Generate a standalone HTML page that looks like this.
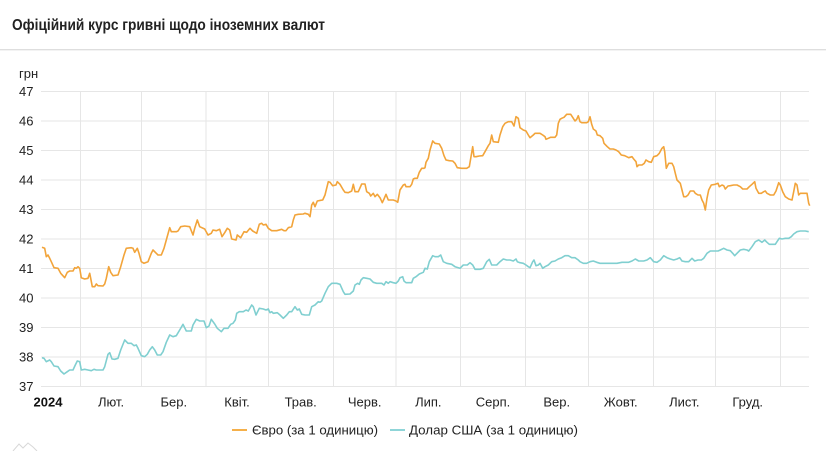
<!DOCTYPE html>
<html>
<head>
<meta charset="utf-8">
<style>
html,body{margin:0;padding:0;background:#fff;}
body{width:826px;height:451px;overflow:hidden;}
svg{display:block;font-family:"Liberation Sans","Noto Sans CJK SC",sans-serif;}
</style>
</head>
<body>
<svg width="826" height="451" viewBox="0 0 826 451" xmlns="http://www.w3.org/2000/svg">
<rect width="826" height="451" fill="#fff"/>
<text x="12" y="30" font-size="16" font-weight="bold" fill="#222" textLength="313" lengthAdjust="spacingAndGlyphs">Офіційний курс гривні щодо іноземних валют</text>
<line x1="0" y1="49.5" x2="826" y2="49.5" stroke="#dedede" stroke-width="1"/>
<line x1="0" y1="50.5" x2="826" y2="50.5" stroke="#f3f3f3" stroke-width="1"/>

<text x="19" y="78" font-size="13" fill="#222">грн</text>

<g stroke="#e6e6e6" stroke-width="1">
<line x1="41" y1="91.5" x2="809" y2="91.5"/>
<line x1="41" y1="121" x2="809" y2="121"/>
<line x1="41" y1="150.5" x2="809" y2="150.5"/>
<line x1="41" y1="180" x2="809" y2="180"/>
<line x1="41" y1="209.5" x2="809" y2="209.5"/>
<line x1="41" y1="239" x2="809" y2="239"/>
<line x1="41" y1="268.5" x2="809" y2="268.5"/>
<line x1="41" y1="298" x2="809" y2="298"/>
<line x1="41" y1="327.5" x2="809" y2="327.5"/>
<line x1="41" y1="357" x2="809" y2="357"/>
<line x1="41" y1="386.5" x2="809" y2="386.5"/>
<line x1="80.5" y1="91.5" x2="80.5" y2="386.5"/>
<line x1="141.5" y1="91.5" x2="141.5" y2="386.5"/>
<line x1="206" y1="91.5" x2="206" y2="386.5"/>
<line x1="268.5" y1="91.5" x2="268.5" y2="386.5"/>
<line x1="333.5" y1="91.5" x2="333.5" y2="386.5"/>
<line x1="396" y1="91.5" x2="396" y2="386.5"/>
<line x1="460.5" y1="91.5" x2="460.5" y2="386.5"/>
<line x1="525.5" y1="91.5" x2="525.5" y2="386.5"/>
<line x1="588.5" y1="91.5" x2="588.5" y2="386.5"/>
<line x1="653.5" y1="91.5" x2="653.5" y2="386.5"/>
<line x1="715.5" y1="91.5" x2="715.5" y2="386.5"/>
<line x1="780.5" y1="91.5" x2="780.5" y2="386.5"/>
</g>

<g font-size="13" fill="#222">
<text x="19" y="96.2">47</text>
<text x="19" y="125.7">46</text>
<text x="19" y="155.2">45</text>
<text x="19" y="184.7">44</text>
<text x="19" y="214.2">43</text>
<text x="19" y="243.7">42</text>
<text x="19" y="273.2">41</text>
<text x="19" y="302.7">40</text>
<text x="19" y="332.2">39</text>
<text x="19" y="361.7">38</text>
<text x="19" y="391.2">37</text>
</g>

<g font-size="13" fill="#222" text-anchor="middle">
<text x="48" y="406.5" font-weight="bold" fill="#111">2024</text>
<text x="111" y="406.5">Лют.</text>
<text x="173.8" y="406.5">Бер.</text>
<text x="237" y="406.5">Квіт.</text>
<text x="300.7" y="406.5">Трав.</text>
<text x="364.7" y="406.5">Черв.</text>
<text x="428.3" y="406.5">Лип.</text>
<text x="493" y="406.5">Серп.</text>
<text x="556.7" y="406.5">Вер.</text>
<text x="620.7" y="406.5">Жовт.</text>
<text x="684.3" y="406.5">Лист.</text>
<text x="747.7" y="406.5">Груд.</text>
</g>

<polyline fill="none" stroke="#80cfd0" stroke-width="1.6" stroke-linejoin="round" points="42,357.7 44,358.3 46.3,361.7 49.7,360 51.3,361.7 54,366 58,366.7 60.7,371 64,374 67.3,371.7 69.7,370 73,370 75.3,365 77.3,361 79.7,361.7 81.3,370 84.7,369.3 88,370 91.3,370.7 94,369.3 96.3,370 99.7,370 103,370 104.7,366.7 108,354.3 109.7,352.7 112,359 114.7,359.3 118,358.3 120.7,350 124.7,340 128,343.3 131.3,343.3 134,345.7 136.3,345 138,348.3 141.3,355.7 144.7,356.7 147.3,354.3 149.7,350 152.3,346.7 154.7,350 157.3,355 160.7,355 163,351.7 166.3,342.3 169.7,335 173,336.7 176.3,335.7 179.7,330 183,324.3 186.3,331 191.3,331 193,325 196.3,319.3 199.7,321 204,321 206.3,327.7 209,326 211.3,319.3 214.7,324 217.3,328.3 221.3,331.7 224,328.3 228,328.3 230.7,324.3 233,323.3 235.3,320 236.7,313.3 239.3,311.7 243.3,311.7 246,310 248.3,311 251.7,305 253.3,306.7 256,315 259.3,308.3 263.3,309 266,310 268.3,309 270,312.7 271.7,311.7 273.3,313.3 277.3,312.7 280,315 283.3,318.3 286.7,315 289.3,311.7 291.7,311.7 295,306.7 297.3,310 299.3,309 301.7,314.3 305,315 309.3,315 311.7,306.7 315,305 318.3,301.7 320,302.3 321.7,301 325,293.3 328.3,286.7 331.7,283.3 336.7,283.3 340,284.3 343.3,291.7 345,294.3 350,294 353.3,291 355,285 357.7,283.3 359.3,284.3 361,280 363.3,277.7 366.7,278.3 370,279 373.3,282.3 376.7,283.3 381.7,283.3 384,285 386,281.7 388.3,283.3 390,281.7 393.3,282.7 396,283.3 398.3,281 400,277.7 402.7,276.7 404,281 406,282.7 409.3,282.7 411.7,282.7 413.3,278.3 416,276.7 419.3,274 423.3,272.3 425,268.3 427.3,269 429.3,261.7 432.7,255.7 435,256.7 438.3,256.7 440.7,255 443.3,261.7 446.7,263.3 451.7,264.3 455,266.7 460,268.3 463.3,265 467.3,265 470,262.7 472.7,265 475,269.3 480,269.3 483.3,268.3 486.7,261.7 489.3,259.3 491.7,265 496.7,265 500,261.7 503.3,259 506.7,260 510,260 513.3,261 516,259 517.3,261.7 520,262.7 523.3,263.3 526,265 528.3,266.7 530,267.7 532.7,261.7 534,260 536,265.7 538.3,265 540,263.3 542.7,268.3 545,266.7 548.3,265 551.7,261.7 555,261 558.3,259 561.7,257.7 565,255.7 568.3,255.7 571.7,257.7 575,257.7 578.3,260 580,261.7 583.3,263.3 586.7,263.3 590,261.7 593.3,261 596.7,262.3 600,263.3 603.3,263.3 606.7,263.3 611.7,263.3 617,263.3 622,262.3 628.7,262.3 632,261 635.3,259 638.7,261 643.7,261 647,260 650.3,257.7 653.7,261.7 657,262.3 660.3,260 663.7,255.7 667,257.7 670.3,259 673.7,260 677,259 679.7,257.7 682,261 685.3,261.7 688.7,261.7 692,258.3 694.7,261 698,260 701.3,260 703.7,258.3 707,253.3 710.3,251 715.3,251 718,251 720.3,250 723.7,248.3 727,250 730.3,250.7 732.7,253.3 734.7,255.7 737,253.3 740.3,250 743.7,249.3 747,250 748.7,251 752,246.7 755.3,241.7 758.7,240 762,242.3 764.7,240 767,242.3 769.3,244.3 772,244.3 775.3,244.3 777,241.7 779.3,238.3 782,239 785.3,238.3 788.7,238.3 791.3,236.7 793.7,234 797,231.7 800.3,231 805.3,231 808.7,231.7"/>

<polyline fill="none" stroke="#f2a43a" stroke-width="1.6" stroke-linejoin="round" points="42,247.3 44.7,248.3 46.3,256.7 48,255 49.7,258.3 51.3,261.7 54,267.7 58,268.3 60.7,273.3 64.7,277.7 67.3,272.3 69.7,271 73,271 74.7,267.7 76.3,268.3 78,266.7 79.7,268.3 81.3,277.7 84.7,279 88,278.3 89.7,273.3 90.7,278.3 92.3,286.7 94.7,286.7 96.3,284 98,285.7 103,286 104.7,284 106.3,278.3 108.7,266.7 110.7,272.3 113,275.7 118,275 120.7,266.7 124,255 126.3,248.3 131.3,247.7 133,248.3 134.7,252.3 137.3,248.3 139,253.3 141.3,261.7 144,263.3 148,261.7 151.3,253.3 153,250 156.3,253.3 158,255 161.3,255 164,248.3 166.3,240 169.7,227.7 171.3,231.7 176.3,231.7 178,231 180.7,226.7 184.7,226 189.7,226.7 193,235 194.7,228.3 197.3,220 199.7,226.7 204.7,229 208,235 211.3,233.3 213,230 216.3,230.7 219.7,229.3 222,236.7 224.7,232.7 227.3,228.3 229.7,230 231.7,239 236,240 237.3,235 240.7,237.7 244,231.7 246.7,232.3 250,228.3 252.7,231 256.7,233.3 259.3,224.3 261.7,223.3 263.3,225 266,224.3 268.3,228.3 271.7,230.7 276.7,230.7 281.7,229.3 284,230.7 286,230.7 288.3,227.7 291.7,226.7 293.3,220 295,215 298.3,214.3 303.3,214 305,213.3 308.3,214.3 310,216.7 311.7,205 313.3,202.3 315,206.7 317.3,201 320.7,200.3 322.7,200 325,195 328.3,181.7 330,182.3 332.7,185.7 336,185 337.3,181.7 340,184.3 343.3,190 345,192.3 348.3,192.7 351.7,191 353.3,184.3 355,191.7 358.3,191.7 361.7,184 365,184 366.7,191.7 369.3,193.3 370.7,196 373.3,193.3 375,196.7 377.3,194.3 380,197.7 382.3,202.7 384,199 386,194.3 388.3,200 390,200 393.3,200 396,201 397.7,202.3 400,190 403.3,185 405,184.3 406,186.7 410,186.7 411.7,184.3 413.3,179 415,178.3 417.3,178.3 419.3,172.3 421.7,168.3 424,168.3 425,167.7 426,162.3 428.3,158.3 430,150 432.7,141 435,143.3 439.3,144 441.7,148.3 444,155.7 446,160 449.3,160.7 452.7,161 455,163.3 457.3,167.7 461.7,168.3 466.7,168.3 469.3,166.7 471,156.7 472.7,146.7 474,156.7 476,156.7 479.3,156 482.7,155.7 485,151.7 488.3,145.7 490,143.3 491.7,135 493.3,141.7 498.3,142.3 500,135 502.7,126.7 505,123.3 508.3,121.7 511.7,121.7 514,126 516,116.7 518.3,118.3 520,127.7 523.3,130 526,131 528.3,135 530,137.7 533.3,135 535,133.3 540,133.3 542.7,135 545,136.7 546,139.3 548.3,138.3 550.7,137.3 555,137.3 556.7,135 558.3,123.3 560,119.3 561.7,118.3 564,117.3 566.7,114.3 570.7,114.3 573.3,118.3 575,121 576.7,119.3 578.3,115.7 580,121.7 581.7,122.7 585,122.7 586.7,122.7 588.3,121.7 590,116.7 591.7,124.3 593.3,129 596,131 597.3,135 600,135.7 602.7,138.3 604,143.3 607.3,146.7 610,149 613.3,149 616,150 618.7,151.7 621.3,155 624.7,155.7 628.7,157.7 632,156.7 633.7,159 636,161.7 637,166.7 638.7,165 642,165 644.3,163.3 646,160 648.7,161.7 651.3,162.3 653.7,156.7 657,155.7 659.3,153.3 662,148.3 663.7,146.7 664.7,151.7 666.3,168.3 668.7,163.3 672,163.3 673.7,166.7 675.3,173.3 677,180 680.3,183.3 682,190 683.7,196.7 686,196.7 688,195 690.3,191 693.7,191 695.3,193.3 698,195 700.3,195 702,200 703.7,203.3 705.3,210 707,198.3 708.7,190 711.3,185 715.3,184.3 718,183.3 719.3,186.7 722,185 723.7,185.7 725.3,189 728,186 730.3,185.7 733.7,185 737,185 740.3,186.7 742.7,189 747,189 749.3,186.7 752,184.3 754.7,181.7 756,188.3 758.7,193.3 761.3,193.3 763.7,191.7 765.3,191 767,193.3 770.3,195 773.7,195 776,191 778.7,182.7 780.3,185 782.7,191.7 785.3,196.7 788.7,199 792,200 793.7,191.7 795.3,183.3 797,185 798.7,195 800.3,193.3 803.7,193.3 807,193.3 808.7,203.3 809.7,205.7"/>

<line x1="232" y1="430" x2="247" y2="430" stroke="#f5b04a" stroke-width="2"/>
<text x="252" y="434.5" font-size="13" fill="#222" textLength="126" lengthAdjust="spacingAndGlyphs">Євро (за 1 одиницю)</text>
<line x1="390" y1="430" x2="405" y2="430" stroke="#8fd5d8" stroke-width="2"/>
<text x="409" y="434.5" font-size="13" fill="#222" textLength="169" lengthAdjust="spacingAndGlyphs">Долар США (за 1 одиницю)</text>

<polyline fill="none" stroke="#d8d8d8" stroke-width="1" points="13,451 19,444 23,448 28,443 33,447 37,451"/>
</svg>
</body>
</html>
